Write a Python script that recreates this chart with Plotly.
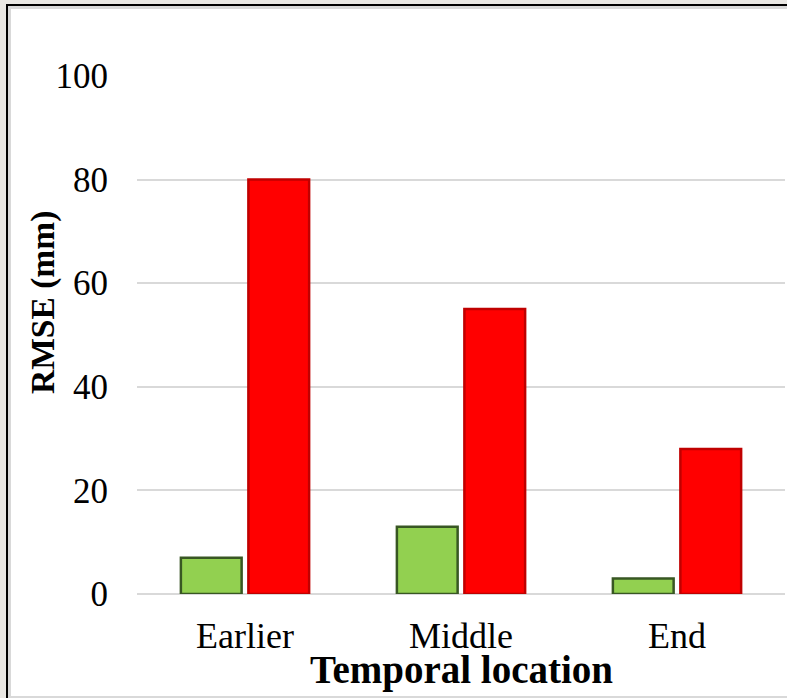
import plotly.graph_objects as go

categories = ["Earlier", "Middle", "End"]
series_green = [7, 13, 3]
series_red = [80, 55, 28]
y_ticks = [0, 20, 40, 60, 80, 100]

W, H = 787, 698
ML, MR, MT, MB = 137, 2, 76, 104
PW, PH = W - ML - MR, H - MT - MB

def fx(px):
    return (px - ML) / PW

def fy(py):
    return (H - MB - py) / PH

FONT = "Liberation Serif, Times New Roman, serif"

fig = go.Figure()
fig.add_trace(go.Bar(x=categories, y=series_green, name="Series 1",
                     marker=dict(color="#92D050", line=dict(color="#385723", width=2.5))))
fig.add_trace(go.Bar(x=categories, y=series_red, name="Series 2",
                     marker=dict(color="#FF0000", line=dict(color="#C00000", width=2.5))))

shapes = [
    dict(type="rect", xref="paper", yref="paper", x0=fx(6), x1=fx(800), y0=fy(4), y1=fy(710),
         fillcolor="#000000", line=dict(width=0), layer="below"),
    dict(type="rect", xref="paper", yref="paper", x0=fx(8), x1=fx(800), y0=fy(6), y1=fy(698),
         fillcolor="#D9D9D9", line=dict(width=0), layer="below"),
    dict(type="rect", xref="paper", yref="paper", x0=fx(11), x1=fx(800), y0=fy(9), y1=fy(696),
         fillcolor="#FFFFFF", line=dict(width=0), layer="below"),
]

annotations = [
    dict(text="<b>RMSE (mm)</b>", xref="paper", yref="paper", x=fx(43), y=fy(303),
         textangle=-90, showarrow=False, xanchor="center", yanchor="middle",
         font=dict(family=FONT, size=33.5, color="#000000")),
    dict(text="<b>Temporal location</b>", xref="paper", yref="paper", x=fx(461), y=fy(670),
         showarrow=False, xanchor="center", yanchor="middle",
         font=dict(family=FONT, size=39, color="#000000")),
]

fig.update_layout(
    width=W, height=H,
    margin=dict(l=ML, r=MR, t=MT, b=MB, pad=0),
    paper_bgcolor="#E9E7E3",
    plot_bgcolor="rgba(0,0,0,0)",
    barmode="group",
    bargap=0.375,
    bargroupgap=0.10,
    showlegend=False,
    shapes=shapes,
    annotations=annotations,
    font=dict(family=FONT, color="#000000"),
)
fig.update_xaxes(showgrid=False, showline=False, zeroline=False,
                 tickfont=dict(family=FONT, size=36, color="#000000"),
                 ticklabelstandoff=17)
fig.update_yaxes(range=[0, 100], tickvals=y_ticks, showgrid=True, gridcolor="#D9D9D9",
                 gridwidth=2, zeroline=True, zerolinecolor="#D9D9D9", zerolinewidth=2,
                 showline=False,
                 tickfont=dict(family=FONT, size=35, color="#000000"),
                 ticklabelstandoff=28)

fig.write_html("out.html", config={"displayModeBar": False},
               post_script="document.body.style.margin='0';document.body.style.overflow='hidden';")
